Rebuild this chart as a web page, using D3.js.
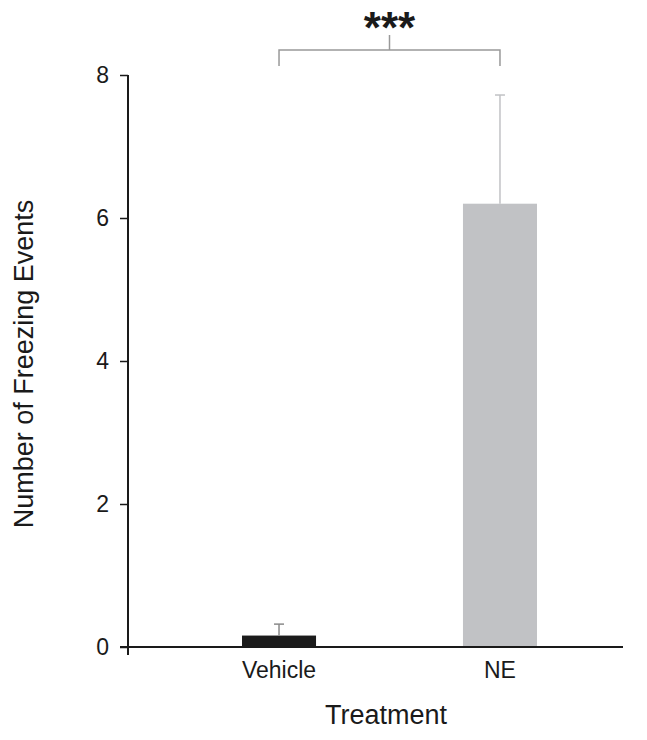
<!DOCTYPE html>
<html>
<head>
<meta charset="utf-8">
<script src="https://cdn.jsdelivr.net/npm/d3@7"></script>
<style>
  body { margin: 0; background: #fff; }
  svg { display: block; font-family: "Liberation Sans", Arial, sans-serif; }
</style>
</head>
<body>
<svg id="canvas" width="647" height="740"></svg>
<script>
let groups = ['Vehicle', 'NE']
let means = [0.16, 6.2]
let errors = [0.16, 1.52]
let barColors = ['#1b1b1b', '#c1c2c5']
let errColors = ['#8a8a8a', '#c1c2c5']
let yTicks = [0, 2, 4, 6, 8]
let signif = '***'

let width = 647
let height = 740

let canvas = d3.select('#canvas')

let yScale = d3.scaleLinear().domain([0, 8]).range([647, 75])
let xScale = d3.scaleBand()
    .domain(groups)
    .range([128, 651])
    .paddingInner(0.665)
    .paddingOuter(0.516)

let axisLeft = 128
let axisRight = 623

// bars
canvas.selectAll('.bar')
      .data(groups)
      .enter()
      .append('rect')
      .attr('class', 'bar')
      .attr('x', (d) => xScale(d))
      .attr('width', xScale.bandwidth())
      .attr('y', (d, i) => yScale(means[i]))
      .attr('height', (d, i) => yScale(0) - yScale(means[i]))
      .attr('fill', (d, i) => barColors[i])

// error bars (upper only)
groups.forEach((g, i) => {
    let cx = xScale(g) + xScale.bandwidth() / 2
    let top = yScale(means[i] + errors[i])
    canvas.append('line')
          .attr('x1', cx).attr('x2', cx)
          .attr('y1', yScale(means[i])).attr('y2', top)
          .attr('stroke', errColors[i]).attr('stroke-width', 1.5)
    canvas.append('line')
          .attr('x1', cx - 5).attr('x2', cx + 5)
          .attr('y1', top).attr('y2', top)
          .attr('stroke', errColors[i]).attr('stroke-width', 1.5)
})

// y axis
let yAxis = d3.axisLeft(yScale)
    .tickValues(yTicks)
    .tickSize(8)
    .tickSizeOuter(0)
    .tickPadding(11)
let yG = canvas.append('g')
    .attr('transform', 'translate(' + axisLeft + ',0)')
    .call(yAxis)
yG.select('.domain').remove()
yG.selectAll('.tick line').attr('stroke', '#1a1a1a').attr('stroke-width', 1.5)
yG.selectAll('.tick text')
  .attr('fill', '#1a1a1a')
  .style('font-size', '23px')
  .style('font-family', '"Liberation Sans", Arial, sans-serif')

canvas.append('line')
      .attr('x1', axisLeft).attr('x2', axisLeft)
      .attr('y1', yScale(8)).attr('y2', yScale(0) + 8)
      .attr('stroke', '#1a1a1a').attr('stroke-width', 2)

// x axis
canvas.append('line')
      .attr('x1', axisLeft - 8).attr('x2', axisRight)
      .attr('y1', yScale(0)).attr('y2', yScale(0))
      .attr('stroke', '#1a1a1a').attr('stroke-width', 2)

canvas.selectAll('.xlabel')
      .data(groups)
      .enter()
      .append('text')
      .attr('class', 'xlabel')
      .attr('x', (d) => xScale(d) + xScale.bandwidth() / 2)
      .attr('y', yScale(0) + 31)
      .attr('text-anchor', 'middle')
      .attr('fill', '#1a1a1a')
      .style('font-size', '23px')
      .text((d) => d)

// axis titles
canvas.append('text')
      .attr('x', 386)
      .attr('y', 724)
      .attr('text-anchor', 'middle')
      .attr('fill', '#1a1a1a')
      .style('font-size', '27px')
      .text('Treatment')

canvas.append('text')
      .attr('transform', 'translate(33,364) rotate(-90)')
      .attr('text-anchor', 'middle')
      .attr('fill', '#1a1a1a')
      .style('font-size', '27px')
      .text('Number of Freezing Events')

// significance bracket
let bx1 = xScale(groups[0]) + xScale.bandwidth() / 2
let bx2 = xScale(groups[1]) + xScale.bandwidth() / 2
let by = 50
let bracket = d3.path()
bracket.moveTo(bx1, 66)
bracket.lineTo(bx1, by)
bracket.lineTo(bx2, by)
bracket.lineTo(bx2, 66)
canvas.append('path')
      .attr('d', bracket.toString())
      .attr('fill', 'none')
      .attr('stroke', '#999')
      .attr('stroke-width', 1.5)
let bmid = (bx1 + bx2) / 2
canvas.append('line')
      .attr('x1', bmid).attr('x2', bmid)
      .attr('y1', by).attr('y2', 35)
      .attr('stroke', '#999').attr('stroke-width', 1.5)

canvas.append('text')
      .attr('x', bmid)
      .attr('y', 43)
      .attr('text-anchor', 'middle')
      .attr('fill', '#1a1a1a')
      .style('font-size', '44px')
      .style('font-weight', 'bold')
      .text(signif)
</script>
</body>
</html>
